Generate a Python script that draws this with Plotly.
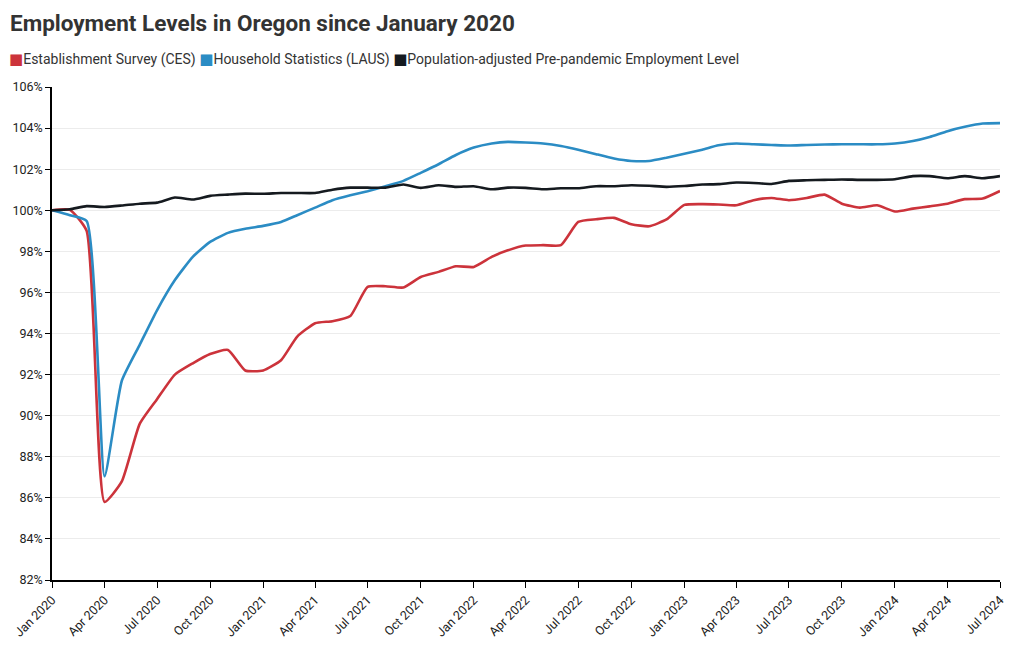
import pandas as pd
import plotly.graph_objects as go

months = [d.strftime("%Y-%m-%d") for d in pd.date_range("2020-01-01", "2024-07-01", freq="MS")]

ces = [100.0, 100.02, 99.0, 85.8, 86.8, 89.6, 90.8, 92.0, 92.55, 93.0, 93.2, 92.2,
       92.2, 92.7, 93.85, 94.5, 94.6, 94.85, 96.27, 96.3, 96.24, 96.75, 97.0, 97.27,
       97.24, 97.73, 98.05, 98.28, 98.3, 98.3, 99.43, 99.56, 99.63, 99.32, 99.22, 99.55,
       100.26, 100.3, 100.28, 100.24, 100.49, 100.6, 100.49, 100.6, 100.76, 100.32, 100.13, 100.24,
       99.94, 100.08, 100.19, 100.32, 100.54, 100.57, 100.94]

laus = [100.0, 99.76, 99.48, 87.05, 91.7, 93.45, 95.13, 96.6, 97.73, 98.46, 98.9, 99.1,
        99.24, 99.43, 99.76, 100.13, 100.49, 100.73, 100.93, 101.17, 101.43, 101.82, 102.24, 102.69,
        103.05, 103.25, 103.33, 103.3, 103.25, 103.13, 102.95, 102.73, 102.52, 102.4, 102.4, 102.56,
        102.75, 102.95, 103.16, 103.25, 103.21, 103.18, 103.15, 103.18, 103.2, 103.21, 103.21, 103.21,
        103.25, 103.37, 103.57, 103.85, 104.06, 104.22, 104.24]

prepandemic = [100.0, 100.05, 100.2, 100.16, 100.23, 100.32, 100.37, 100.62, 100.52, 100.7, 100.76, 100.81,
               100.8, 100.84, 100.84, 100.84, 101.0, 101.1, 101.1, 101.1, 101.25, 101.09, 101.22, 101.14,
               101.17, 101.02, 101.1, 101.09, 101.02, 101.07, 101.07, 101.17, 101.17, 101.22, 101.19, 101.14,
               101.18, 101.25, 101.27, 101.35, 101.33, 101.28, 101.43, 101.46, 101.48, 101.5, 101.48, 101.48,
               101.51, 101.66, 101.66, 101.56, 101.66, 101.56, 101.66]

series_names = ["Establishment Survey (CES)", "Household Statistics (LAUS)",
                "Population-adjusted Pre-pandemic Employment Level"]
colors = ["#cc333b", "#2b8cc4", "#151a1f"]

tick_vals = months[::3]
tick_text = [pd.Timestamp(m).strftime("%b %Y") for m in tick_vals]
y_ticks = list(range(82, 107, 2))

fig = go.Figure()
for name, vals, col in zip(series_names, [ces, laus, prepandemic], colors):
    fig.add_trace(go.Scatter(x=months, y=vals, name=name, mode="lines",
                             line=dict(color=col, width=2.6, shape="spline", smoothing=0.5),
                             showlegend=False))

legend_text = "".join(
    f"<span style='color:{c};font-family:DejaVu Sans;font-size:15px'>■</span>{n}" + ("" if i == 2 else " ")
    for i, (n, c) in enumerate(zip(series_names, colors)))

# page has an 8px body margin: figure is 1012x642 placed at (8, 8)
W, H = 1012, 642
L, R, T, B = 44, 20, 79, 70
pw, ph = W - L - R, H - T - B

fig.add_annotation(text=legend_text, xref="paper", yref="paper", x=-(L + 1) / pw, y=1 + 28 / ph,
                   xanchor="left", yanchor="middle", showarrow=False,
                   font=dict(family="Roboto", size=14, color="#333333"))

fig.update_layout(
    width=W, height=H,
    margin=dict(l=L, r=R, t=T, b=B, autoexpand=False),
    paper_bgcolor="white", plot_bgcolor="white",
    font=dict(family="Roboto", size=12, color="#222222"),
    title=dict(text="<b>Employment Levels in Oregon since January 2020</b>",
               x=2 / W, xref="container", xanchor="left",
               y=1 - 15 / H, yref="container", yanchor="middle",
               font=dict(family="Roboto", size=22.5, color="#333333")),
    xaxis=dict(type="date", range=[months[0], months[-1]], tickvals=tick_vals, ticktext=tick_text,
               tickangle=-45, showgrid=False, showline=True, linecolor="#000000", linewidth=1.5,
               ticks="outside", ticklen=6, tickcolor="#000000", tickfont=dict(size=12.5, color="#222222"),
               zeroline=False, automargin=False),
    yaxis=dict(range=[82, 106], tickvals=y_ticks, ticktext=[f"{v}%" for v in y_ticks],
               showgrid=True, gridcolor="#ececec", gridwidth=1, showline=True, linecolor="#000000",
               linewidth=1.5, ticks="outside", ticklen=5, tickcolor="#000000",
               tickfont=dict(size=12.5, color="#222222"), zeroline=False, automargin=False),
)

fig.write_html("out.html")
